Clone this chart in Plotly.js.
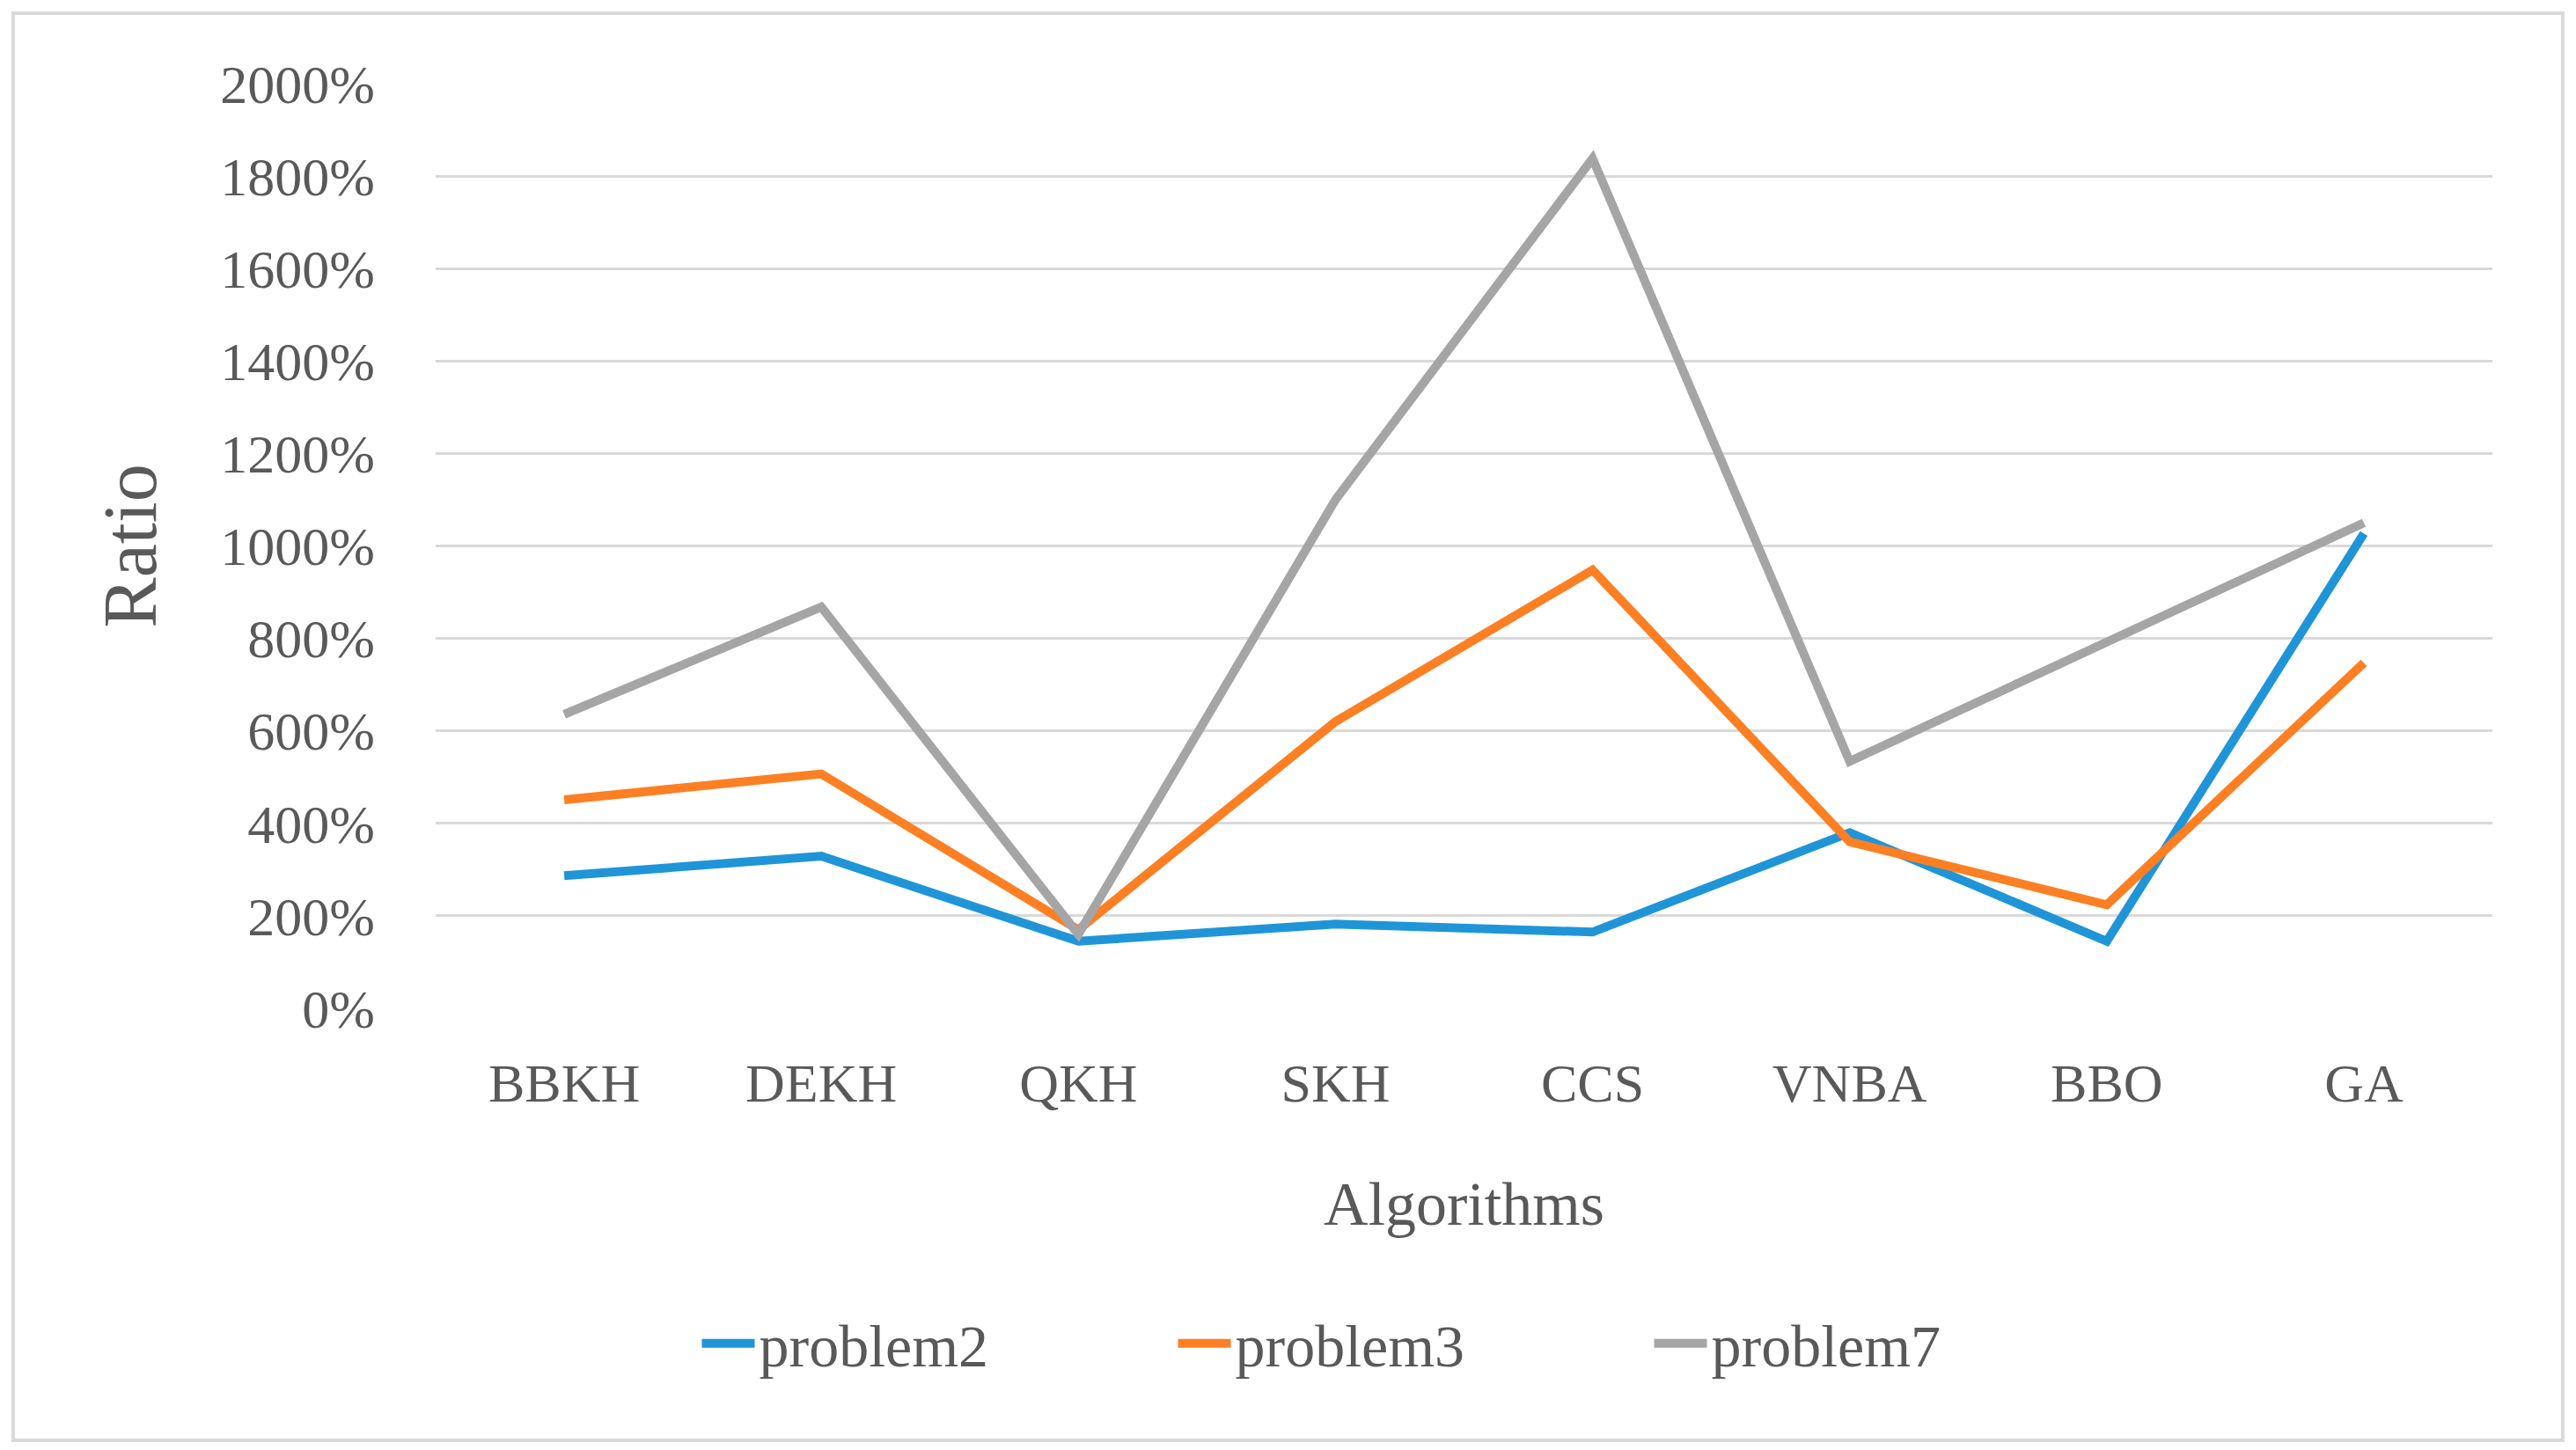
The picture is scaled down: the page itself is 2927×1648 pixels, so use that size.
<!DOCTYPE html>
<html>
<head>
<meta charset="utf-8">
<script src="https://cdn.plot.ly/plotly-3.0.1.min.js"></script>
<style>html,body{margin:0;padding:0;background:#fff;}#chart{width:2927px;height:1648px;}</style>
</head>
<body>
<div id="chart"></div>
<script>
const categories = ["BBKH", "DEKH", "QKH", "SKH", "CCS", "VNBA", "BBO", "GA"];
const problem2 = [287, 329, 145, 182, 165, 380, 145, 1027];
const problem3 = [451, 507, 170, 620, 948, 360, 224, 747];
const problem7 = [636, 868, 160, 1100, 1838, 534, 792, 1050];
const yTickValues = [0, 200, 400, 600, 800, 1000, 1200, 1400, 1600, 1800, 2000];
const yTickLabels = yTickValues.map(v => v + "%");

const FONT = "Liberation Serif, Times New Roman, serif";
const TXT = "#595959";

function series(name, y, color) {
  return {
    type: "scatter", mode: "lines", name: name,
    x: categories, y: y,
    line: {color: color, width: 10},
    hoverinfo: "x+y+name"
  };
}

const data = [
  series("problem2", problem2, "#1f95d8"),
  series("problem3", problem3, "#fd7f23"),
  series("problem7", problem7, "#a5a5a5")
];

const layout = {
  width: 2927, height: 1648,
  margin: {l: 495, r: 95, t: 95, b: 502},
  paper_bgcolor: "#ffffff", plot_bgcolor: "#ffffff",
  font: {family: FONT, color: TXT, size: 62},
  showlegend: true,
  legend: {
    orientation: "h", xref: "container", yref: "container",
    x: 0.548, y: 0.0734, xanchor: "center", yanchor: "middle",
    font: {family: FONT, color: TXT, size: 68},
    itemwidth: 60, entrywidth: 466, tracegroupgap: 0
  },
  xaxis: {
    type: "category", range: [-0.5, 7.5],
    showgrid: false, zeroline: false, showline: false, ticks: "",
    tickfont: {family: FONT, color: TXT, size: 62},
    ticklabelstandoff: 43,
    title: {text: "Algorithms", font: {family: FONT, color: TXT, size: 70}, standoff: 78}
  },
  yaxis: {
    range: [0, 2000], tickmode: "array", tickvals: yTickValues, ticktext: yTickLabels,
    showgrid: true, gridcolor: "#d9d9d9", gridwidth: 3,
    zeroline: false, showline: false, ticks: "",
    tickfont: {family: FONT, color: TXT, size: 62},
    ticklabelstandoff: 68,
    title: {text: "Ratio", font: {family: FONT, color: TXT, size: 86}, standoff: 44}
  },
  shapes: [{
    type: "rect", xref: "paper", yref: "paper",
    x0: -0.2054, x1: 1.0342, y0: -0.4672, y1: 1.0761,
    line: {color: "#d9d9d9", width: 4}, fillcolor: "rgba(0,0,0,0)", layer: "below"
  }]
};

Plotly.newPlot("chart", data, layout, {displayModeBar: false, responsive: false});
</script>
</body>
</html>
